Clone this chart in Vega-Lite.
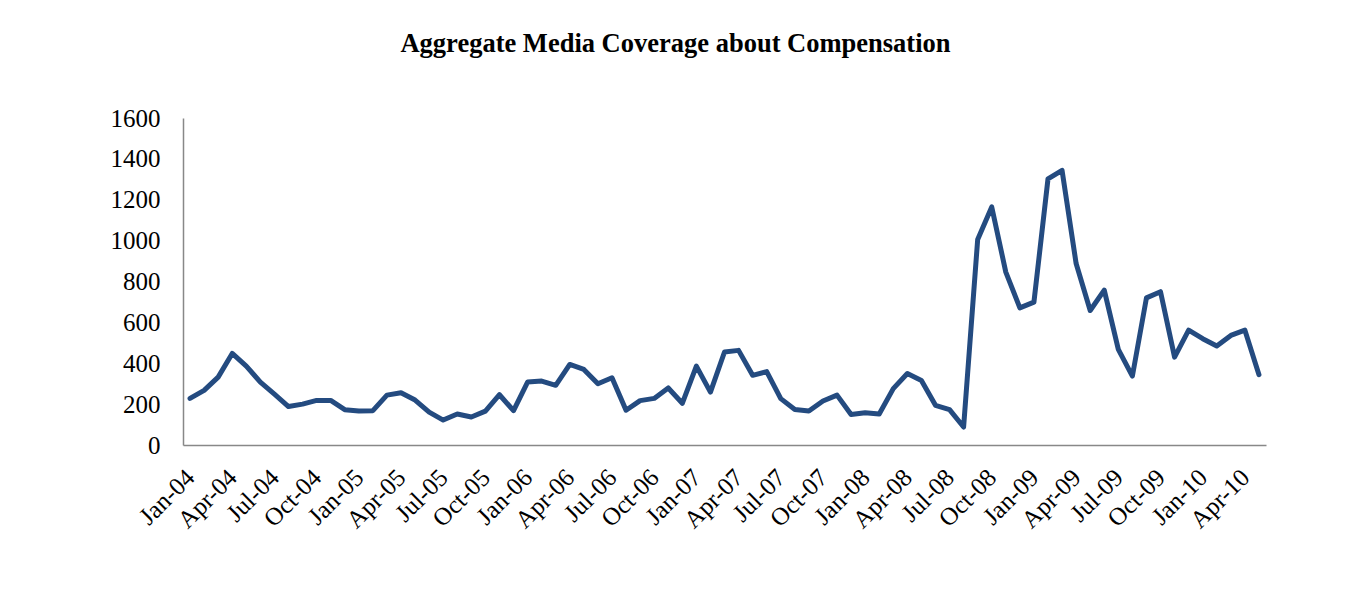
{
  "$schema": "https://vega.github.io/schema/vega-lite/v6.json",
  "autosize": {"type": "none"},
  "padding": {"left": 183, "top": 118, "right": 86, "bottom": 171},
  "width": 1083,
  "height": 327,
  "background": "white",
  "title": {
    "text": "Aggregate Media Coverage about Compensation",
    "font": "Liberation Serif",
    "fontSize": 26.5,
    "fontWeight": "bold",
    "color": "black",
    "anchor": "middle",
    "dx": -49,
    "baseline": "alphabetic",
    "offset": 28
  },
  "data": {
    "values": [
      {"month": "Jan-04", "count": 228}, {"month": "Feb-04", "count": 267}, {"month": "Mar-04", "count": 332},
      {"month": "Apr-04", "count": 448}, {"month": "May-04", "count": 386}, {"month": "Jun-04", "count": 308},
      {"month": "Jul-04", "count": 249}, {"month": "Aug-04", "count": 188}, {"month": "Sep-04", "count": 200},
      {"month": "Oct-04", "count": 218}, {"month": "Nov-04", "count": 218}, {"month": "Dec-04", "count": 173},
      {"month": "Jan-05", "count": 166}, {"month": "Feb-05", "count": 168}, {"month": "Mar-05", "count": 244},
      {"month": "Apr-05", "count": 256}, {"month": "May-05", "count": 220}, {"month": "Jun-05", "count": 161},
      {"month": "Jul-05", "count": 122}, {"month": "Aug-05", "count": 152}, {"month": "Sep-05", "count": 137},
      {"month": "Oct-05", "count": 166}, {"month": "Nov-05", "count": 246}, {"month": "Dec-05", "count": 168},
      {"month": "Jan-06", "count": 308}, {"month": "Feb-06", "count": 313}, {"month": "Mar-06", "count": 292},
      {"month": "Apr-06", "count": 394}, {"month": "May-06", "count": 370}, {"month": "Jun-06", "count": 300},
      {"month": "Jul-06", "count": 329}, {"month": "Aug-06", "count": 170}, {"month": "Sep-06", "count": 217},
      {"month": "Oct-06", "count": 228}, {"month": "Nov-06", "count": 279}, {"month": "Dec-06", "count": 204},
      {"month": "Jan-07", "count": 386}, {"month": "Feb-07", "count": 259}, {"month": "Mar-07", "count": 455},
      {"month": "Apr-07", "count": 463}, {"month": "May-07", "count": 341}, {"month": "Jun-07", "count": 359},
      {"month": "Jul-07", "count": 227}, {"month": "Aug-07", "count": 174}, {"month": "Sep-07", "count": 166},
      {"month": "Oct-07", "count": 215}, {"month": "Nov-07", "count": 244}, {"month": "Dec-07", "count": 149},
      {"month": "Jan-08", "count": 158}, {"month": "Feb-08", "count": 152}, {"month": "Mar-08", "count": 276},
      {"month": "Apr-08", "count": 350}, {"month": "May-08", "count": 316}, {"month": "Jun-08", "count": 194},
      {"month": "Jul-08", "count": 173}, {"month": "Aug-08", "count": 88}, {"month": "Sep-08", "count": 1005},
      {"month": "Oct-08", "count": 1165}, {"month": "Nov-08", "count": 846}, {"month": "Dec-08", "count": 671},
      {"month": "Jan-09", "count": 699}, {"month": "Feb-09", "count": 1302}, {"month": "Mar-09", "count": 1344},
      {"month": "Apr-09", "count": 888}, {"month": "May-09", "count": 658}, {"month": "Jun-09", "count": 758},
      {"month": "Jul-09", "count": 468}, {"month": "Aug-09", "count": 337}, {"month": "Sep-09", "count": 720},
      {"month": "Oct-09", "count": 750}, {"month": "Nov-09", "count": 430}, {"month": "Dec-09", "count": 562},
      {"month": "Jan-10", "count": 520}, {"month": "Feb-10", "count": 484}, {"month": "Mar-10", "count": 536},
      {"month": "Apr-10", "count": 562}, {"month": "May-10", "count": 344}
    ]
  },
  "mark": {"type": "line", "color": "#244B80", "strokeWidth": 5, "strokeJoin": "round", "strokeCap": "round"},
  "encoding": {
    "x": {
      "field": "month",
      "type": "ordinal",
      "sort": null,
      "scale": {"type": "point", "padding": 0.5},
      "axis": {
        "title": null,
        "values": ["Jan-04","Apr-04","Jul-04","Oct-04","Jan-05","Apr-05","Jul-05","Oct-05","Jan-06","Apr-06","Jul-06","Oct-06","Jan-07","Apr-07","Jul-07","Oct-07","Jan-08","Apr-08","Jul-08","Oct-08","Jan-09","Apr-09","Jul-09","Oct-09","Jan-10","Apr-10"],
        "labelAngle": -45,
        "labelAlign": "right",
        "labelBaseline": "middle",
        "labelPadding": 28,
        "labelFont": "Liberation Serif",
        "labelFontSize": 25,
        "labelColor": "black",
        "labelOverlap": false,
        "ticks": false,
        "domainColor": "#888888",
        "domainWidth": 1.5,
        "grid": false
      }
    },
    "y": {
      "field": "count",
      "type": "quantitative",
      "scale": {"domain": [0, 1600], "nice": false},
      "axis": {
        "title": null,
        "format": "d",
        "values": [0, 200, 400, 600, 800, 1000, 1200, 1400, 1600],
        "labelFont": "Liberation Serif",
        "labelFontSize": 25,
        "labelColor": "black",
        "labelPadding": 23,
        "ticks": false,
        "domainColor": "#888888",
        "domainWidth": 1.5,
        "grid": false
      }
    }
  },
  "config": {"view": {"stroke": null}}
}
